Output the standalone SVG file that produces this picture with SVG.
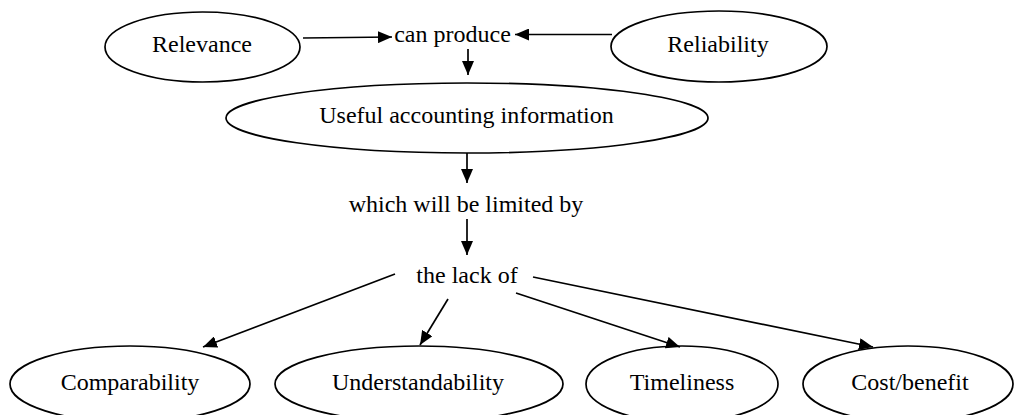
<svg xmlns="http://www.w3.org/2000/svg" width="1015" height="415" viewBox="0 0 1015 415">
<style>
.n ellipse{fill:#fff;stroke:#000;stroke-width:1.7}
text{font-family:'Liberation Serif','Times New Roman',serif;font-size:24px;fill:#000;text-anchor:middle}
.c line{stroke:#000;stroke-width:1.7;marker-end:url(#ah)}
</style>
<defs>
<marker id="ah" viewBox="0 0 14 12" refX="14" refY="6" markerWidth="14" markerHeight="12" markerUnits="userSpaceOnUse" orient="auto">
<path d="M0,0 L14,6 L0,12 z" fill="#000"/>
</marker>
</defs>
<rect width="1015" height="415" fill="#fff"/>
<g id="relevance" class="n"><ellipse cx="202.5" cy="47" rx="97.5" ry="35"/><text x="202" y="52">Relevance</text></g>
<g id="reliability" class="n"><ellipse cx="719" cy="46.5" rx="108" ry="35.5"/><text x="718" y="52">Reliability</text></g>
<g id="canproduce"><text x="452.5" y="42">can produce</text></g>
<g id="useful" class="n"><ellipse cx="467" cy="118" rx="241" ry="35"/><text x="466.5" y="123">Useful accounting information</text></g>
<g id="limited"><text x="466" y="212">which will be limited by</text></g>
<g id="lackof"><text x="467" y="283">the lack of</text></g>
<g id="comparability" class="n"><ellipse cx="130" cy="384" rx="120" ry="38"/><text x="130" y="390">Comparability</text></g>
<g id="understandability" class="n"><ellipse cx="419" cy="384" rx="144" ry="38"/><text x="418" y="390">Understandability</text></g>
<g id="timeliness" class="n"><ellipse cx="682" cy="384" rx="96" ry="38"/><text x="682" y="390">Timeliness</text></g>
<g id="costbenefit" class="n"><ellipse cx="908" cy="384" rx="105" ry="38"/><text x="910" y="390">Cost/benefit</text></g>
<g id="connectors" class="c">
<line x1="303" y1="38" x2="392" y2="37"/>
<line x1="612" y1="34.5" x2="515" y2="34.5"/>
<line x1="468" y1="49" x2="468" y2="75"/>
<line x1="467" y1="153" x2="467" y2="183"/>
<line x1="467" y1="219" x2="467" y2="255"/>
<line x1="395" y1="274" x2="203" y2="347"/>
<line x1="448" y1="299" x2="420" y2="345"/>
<line x1="516" y1="293" x2="680" y2="347"/>
<line x1="533" y1="277" x2="873" y2="347"/>
</g>
</svg>
